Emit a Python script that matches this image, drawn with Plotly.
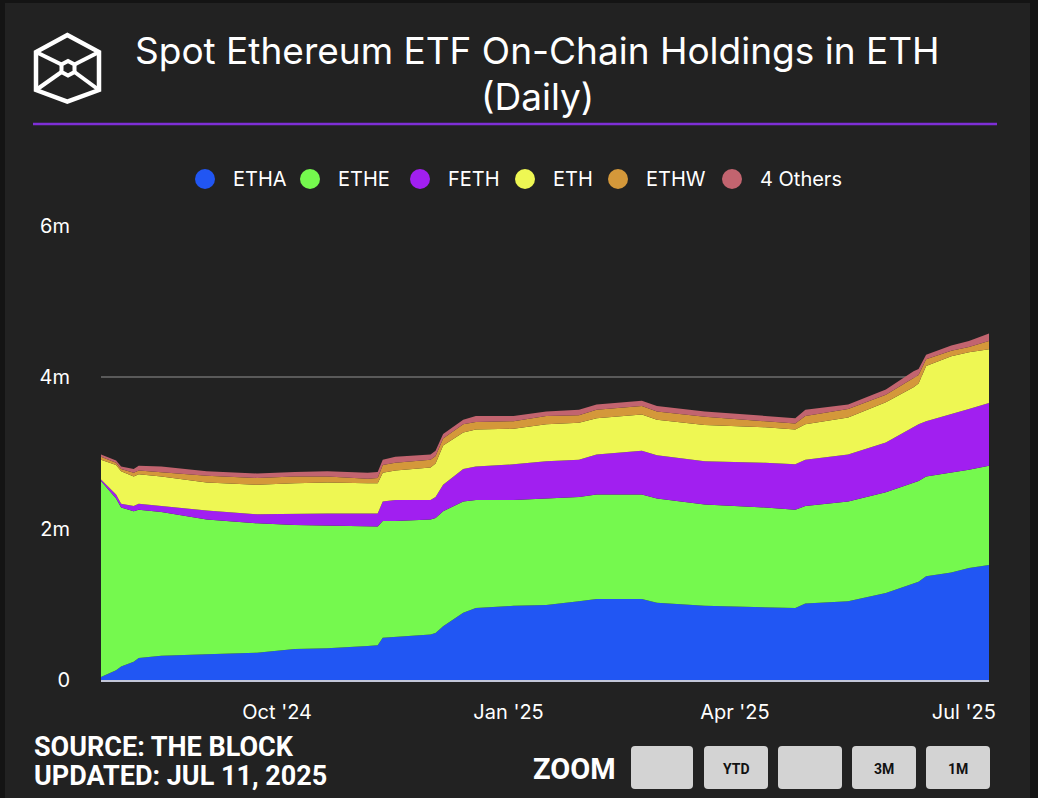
import plotly.graph_objects as go

# ---------------- data (millions of ETH) ----------------
dates = ["2024-07-23", "2024-07-29", "2024-07-31", "2024-08-05", "2024-08-07", "2024-08-16",
         "2024-09-03", "2024-09-23", "2024-10-08", "2024-10-21", "2024-11-06", "2024-11-10",
         "2024-11-12", "2024-11-17", "2024-12-01", "2024-12-03", "2024-12-06", "2024-12-14",
         "2024-12-19", "2025-01-03", "2025-01-16", "2025-01-29", "2025-02-05", "2025-02-23",
         "2025-03-01", "2025-03-20", "2025-04-13", "2025-04-25", "2025-04-29", "2025-05-16",
         "2025-05-31", "2025-06-11", "2025-06-13", "2025-06-16", "2025-06-26", "2025-07-03",
         "2025-07-11"]
etha = [0.04, 0.13, 0.18, 0.24, 0.29, 0.32, 0.34, 0.36, 0.41, 0.42, 0.45, 0.46,
        0.56, 0.57, 0.60, 0.62, 0.71, 0.89, 0.95, 0.98, 0.99, 1.04, 1.07, 1.07,
        1.02, 0.98, 0.96, 0.95, 1.01, 1.04, 1.15, 1.28, 1.30, 1.37, 1.42, 1.48, 1.52]
ethe = [2.59, 2.27, 2.10, 1.99, 1.96, 1.90, 1.78, 1.71, 1.64, 1.62, 1.58, 1.57,
        1.54, 1.53, 1.52, 1.52, 1.52, 1.47, 1.43, 1.40, 1.41, 1.38, 1.38, 1.38,
        1.38, 1.34, 1.32, 1.30, 1.29, 1.32, 1.33, 1.33, 1.33, 1.32, 1.32, 1.30, 1.31]
feth = [0.02, 0.05, 0.05, 0.07, 0.08, 0.08, 0.12, 0.12, 0.15, 0.16, 0.17, 0.17,
        0.26, 0.28, 0.26, 0.28, 0.35, 0.43, 0.44, 0.47, 0.49, 0.49, 0.53, 0.58,
        0.57, 0.57, 0.59, 0.60, 0.61, 0.62, 0.66, 0.74, 0.75, 0.73, 0.77, 0.80, 0.83]
eth_mini = [0.26, 0.39, 0.43, 0.39, 0.39, 0.39, 0.37, 0.39, 0.40, 0.41, 0.40, 0.40,
            0.38, 0.39, 0.43, 0.44, 0.52, 0.48, 0.49, 0.47, 0.49, 0.49, 0.48, 0.48,
            0.47, 0.48, 0.47, 0.46, 0.47, 0.49, 0.53, 0.52, 0.54, 0.73, 0.77, 0.75, 0.71]
ethw = [0.04, 0.03, 0.03, 0.05, 0.05, 0.06, 0.09, 0.09, 0.09, 0.08, 0.06, 0.07,
        0.10, 0.10, 0.10, 0.10, 0.09, 0.11, 0.10, 0.10, 0.11, 0.10, 0.11, 0.11,
        0.11, 0.11, 0.08, 0.08, 0.11, 0.11, 0.10, 0.12, 0.11, 0.09, 0.07, 0.07, 0.11]
others = [0.03, 0.03, 0.03, 0.05, 0.06, 0.07, 0.06, 0.06, 0.06, 0.07, 0.08, 0.08,
          0.07, 0.08, 0.07, 0.07, 0.06, 0.06, 0.08, 0.07, 0.06, 0.07, 0.07, 0.07,
          0.07, 0.07, 0.07, 0.07, 0.08, 0.06, 0.07, 0.09, 0.08, 0.06, 0.07, 0.08, 0.10]

series_names = ["ETHA", "ETHE", "FETH", "ETH", "ETHW", "4 Others"]
series_values = [etha, ethe, feth, eth_mini, ethw, others]
series_colors = ["#2156F3", "#75F94E", "#A11FF0", "#EEF753", "#D4983A", "#C2646F"]

y_tickvals = [0, 2, 4, 6]
y_ticktext = ["0", "2m", "4m", "6m"]
x_tickvals = ["2024-10-01", "2025-01-01", "2025-04-01", "2025-07-01"]
x_ticktext = ["Oct '24", "Jan '25", "Apr '25", "Jul '25"]

title_line1 = "Spot Ethereum ETF On-Chain Holdings in ETH"
title_line2 = "(Daily)"
source_text = "SOURCE: THE BLOCK"
updated_text = "UPDATED: JUL 11, 2025"
zoom_buttons = ["", "YTD", "", "3M", "1M"]

# ---------------- layout geometry ----------------
W, H = 1038, 798
L, R, T, B = 101, 49, 226, 118
PW = W - L - R
PH = H - T - B
BG = "#222222"
FONT = "Inter, Roboto, sans-serif"


def px(x):
    return (x - L) / PW


def py(y):
    return (H - B - y) / PH


def poly_path(points, close=True):
    s = "M " + " L ".join(f"{px(x):.5f},{py(y):.5f}" for x, y in points)
    return s + (" Z" if close else "")


def rounded_rect(x0, y0, x1, y1, r):
    pts = [
        ("M", (x0 + r, y0)), ("L", (x1 - r, y0)), ("Q", (x1, y0), (x1, y0 + r)),
        ("L", (x1, y1 - r)), ("Q", (x1, y1), (x1 - r, y1)), ("L", (x0 + r, y1)),
        ("Q", (x0, y1), (x0, y1 - r)), ("L", (x0, y0 + r)), ("Q", (x0, y0), (x0 + r, y0)),
    ]
    out = []
    for p in pts:
        coords = " ".join(f"{px(a):.5f},{py(b):.5f}" for a, b in p[1:])
        out.append(f"{p[0]} {coords}")
    return " ".join(out) + " Z"


fig = go.Figure()

for name, vals, col in zip(series_names, series_values, series_colors):
    fig.add_trace(go.Scatter(
        x=dates, y=vals, name=name, stackgroup="one", mode="lines",
        line=dict(width=0, color=col), fillcolor=col, showlegend=False,
        hoverinfo="skip",
    ))

shapes = []
annotations = []

# dark frame strips (left, top, right)
for x0, y0, x1, y1 in [(0, 0, 5, H), (0, 0, W, 3), (1030, 0, W, H)]:
    shapes.append(dict(type="rect", xref="paper", yref="paper",
                       x0=px(x0), x1=px(x1), y0=py(y1), y1=py(y0),
                       line=dict(width=0), fillcolor="#141414", layer="above"))

# purple separator under title
shapes.append(dict(type="line", xref="paper", yref="paper",
                   x0=px(33), x1=px(997), y0=py(124), y1=py(124),
                   line=dict(color="#7E2FD6", width=2.5)))

# logo (cube outline)
outer = [(67.3, 35), (99, 52), (99, 90), (67.3, 101.5), (36, 90), (36, 52)]
inner = [(68, 61), (74.5, 64.5), (74.5, 72), (68, 75.5), (61.5, 72), (61.5, 64.5)]
shapes.append(dict(type="path", xref="paper", yref="paper", path=poly_path(outer),
                   line=dict(color="white", width=4.5)))
shapes.append(dict(type="path", xref="paper", yref="paper", path=poly_path(inner),
                   line=dict(color="white", width=4)))
for a, b in [(outer[5], inner[5]), (outer[1], inner[1]), (outer[4], inner[4]), (outer[2], inner[2])]:
    shapes.append(dict(type="line", xref="paper", yref="paper",
                       x0=px(a[0]), y0=py(a[1]), x1=px(b[0]), y1=py(b[1]),
                       line=dict(color="white", width=4)))

# legend (circle markers + labels)
legend_circle_x = [205, 310, 420, 525, 618, 732]
legend_y = 179
for cxp, name, col in zip(legend_circle_x, series_names, series_colors):
    shapes.append(dict(type="circle", xref="paper", yref="paper",
                       x0=px(cxp - 10), x1=px(cxp + 10), y0=py(legend_y + 10), y1=py(legend_y - 10),
                       fillcolor=col, line=dict(width=0)))
    annotations.append(dict(text=name, x=px(cxp + 26), y=py(legend_y), xref="paper", yref="paper",
                            showarrow=False, xanchor="left", yanchor="middle",
                            font=dict(family=FONT, size=20, color="white")))

# zoom buttons
btn_x = [(631, 693), (704, 768), (778, 842), (852, 916), (926, 990)]
for (x0, x1), lab in zip(btn_x, zoom_buttons):
    shapes.append(dict(type="path", xref="paper", yref="paper",
                       path=rounded_rect(x0, 746, x1, 789, 4),
                       fillcolor="#D3D3D3", line=dict(width=0)))
    if lab:
        annotations.append(dict(text=f"<b>{lab}</b>", x=px((x0 + x1) / 2), y=py(769),
                                xref="paper", yref="paper", showarrow=False,
                                xanchor="center", yanchor="middle",
                                font=dict(family="Roboto", size=14, color="#111111")))

annotations += [
    dict(text=title_line1, x=px(537), y=py(50), xref="paper", yref="paper", showarrow=False,
         xanchor="center", yanchor="middle", font=dict(family=FONT, size=37, color="white")),
    dict(text=title_line2, x=px(537), y=py(96), xref="paper", yref="paper", showarrow=False,
         xanchor="center", yanchor="middle", font=dict(family=FONT, size=37, color="white")),
    dict(text=f"<b>{source_text}</b>", x=px(32), y=py(747), xref="paper", yref="paper",
         showarrow=False, xanchor="left", yanchor="middle",
         font=dict(family="Roboto", size=27, color="white")),
    dict(text=f"<b>{updated_text}</b>", x=px(32), y=py(776), xref="paper", yref="paper",
         showarrow=False, xanchor="left", yanchor="middle",
         font=dict(family="Roboto", size=27, color="white")),
    dict(text="<b>ZOOM</b>", x=px(618), y=py(769), xref="paper", yref="paper",
         showarrow=False, xanchor="right", yanchor="middle",
         font=dict(family="Roboto", size=29, color="white")),
]

fig.update_layout(
    width=W, height=H,
    margin=dict(l=L, r=R, t=T, b=B, pad=0),
    paper_bgcolor=BG, plot_bgcolor=BG,
    font=dict(family=FONT, color="white", size=20),
    showlegend=False,
    xaxis=dict(type="date", range=["2024-07-23", "2025-07-11"],
               tickvals=x_tickvals, ticktext=x_ticktext, showgrid=False,
               showline=True, linecolor="#C3C7D9", linewidth=2, zeroline=False,
               ticks="", tickfont=dict(family=FONT, size=20, color="white"), ticklabelstandoff=13),
    yaxis=dict(range=[0, 6], tickvals=y_tickvals, ticktext=y_ticktext,
               showgrid=True, gridcolor="#5a5a5a", gridwidth=1.5, zeroline=False,
               showline=False, ticks="", tickfont=dict(family=FONT, size=20, color="white"),
               ticklabelstandoff=30),
    shapes=shapes,
    annotations=annotations,
    hovermode=False,
)

fig.write_html("out.html", config={"displayModeBar": False},
               post_script="document.body.style.margin='0px';")
